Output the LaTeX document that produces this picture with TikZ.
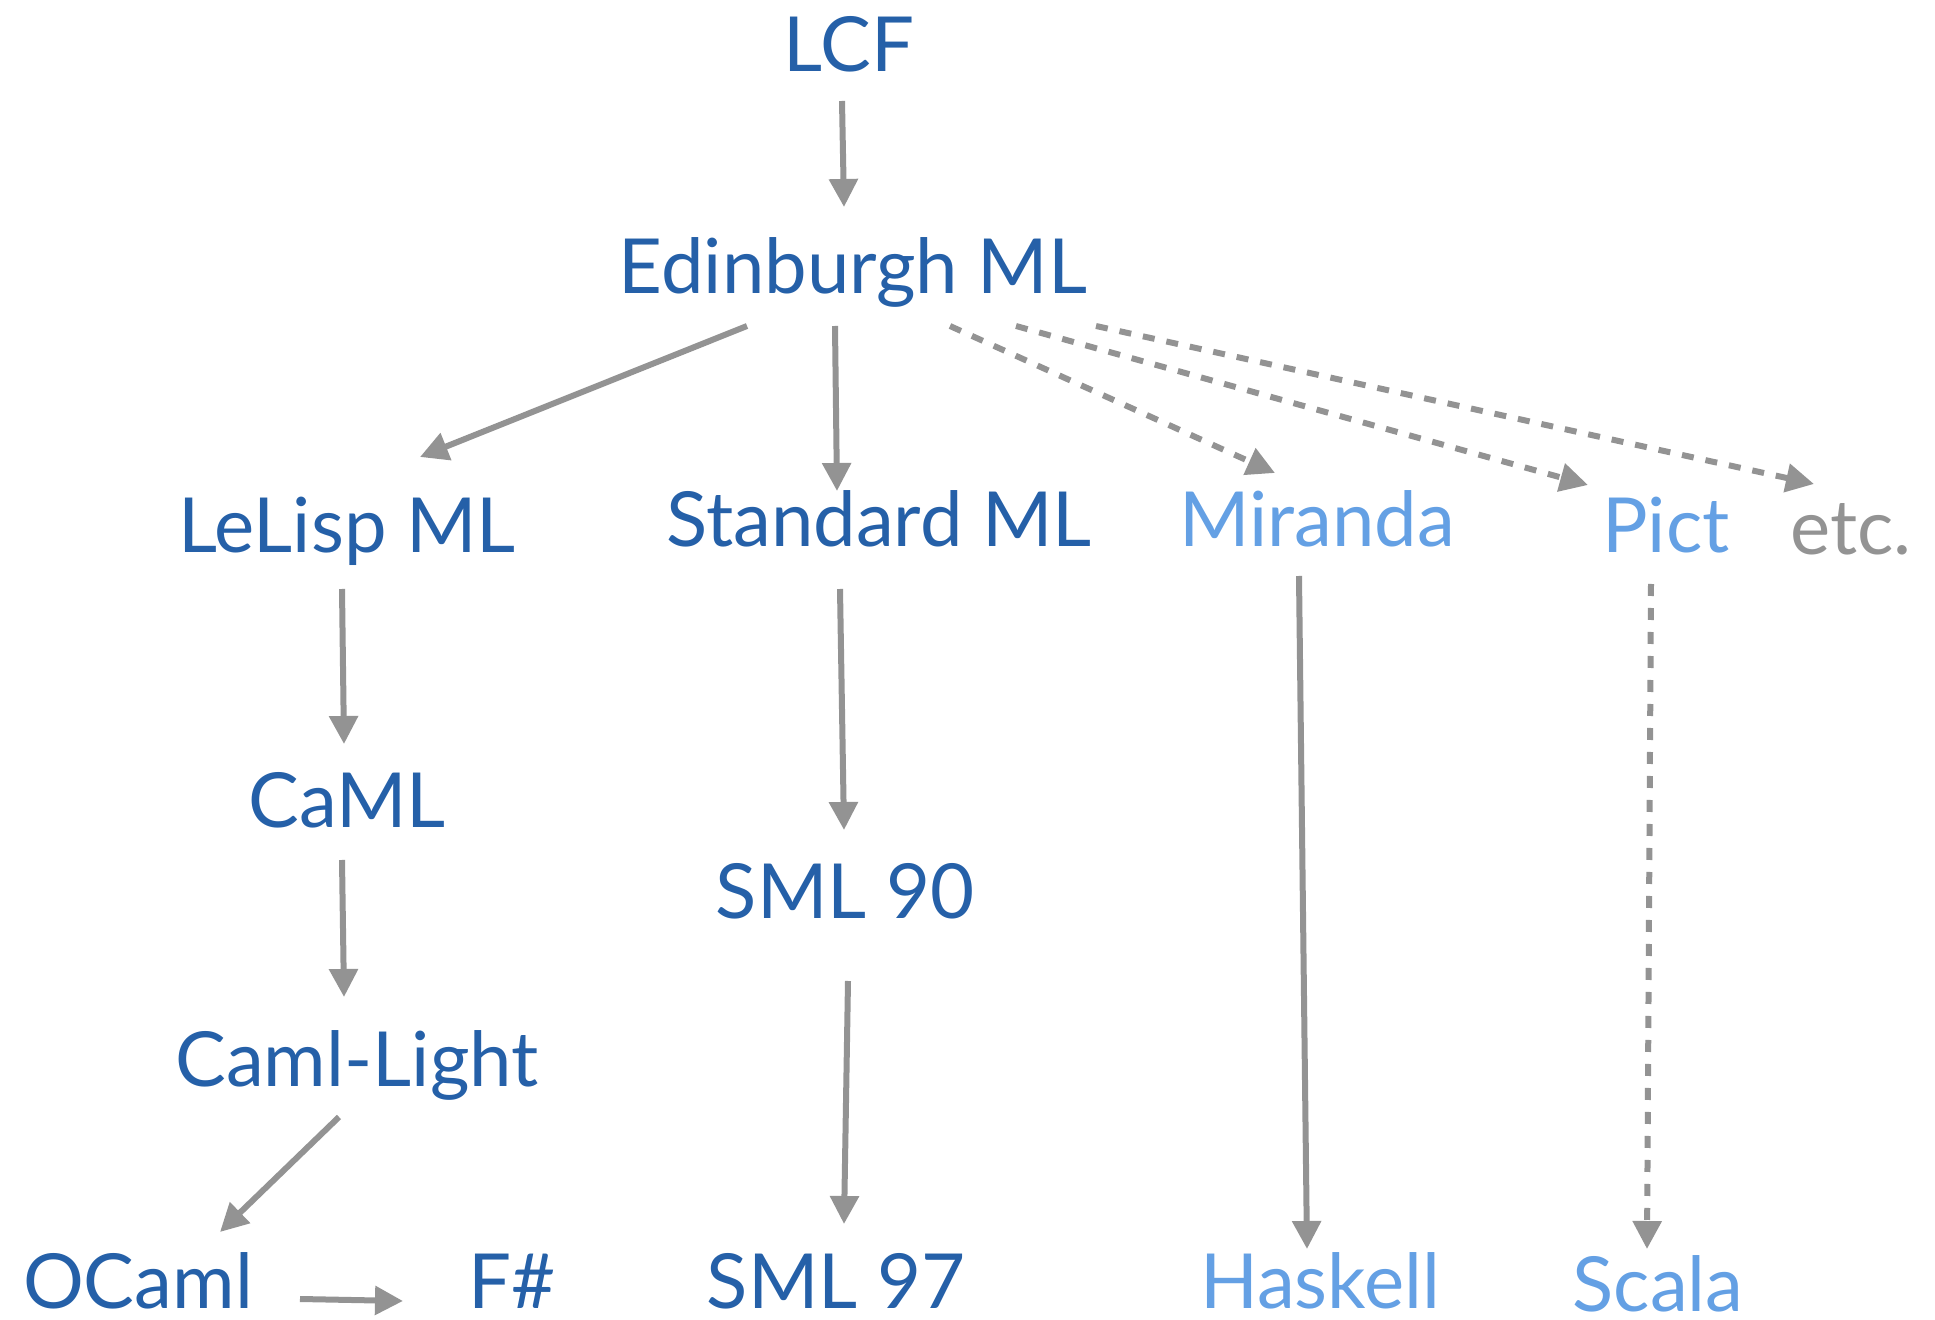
\documentclass[tikz,border=0pt]{standalone}
\usepackage{fontspec}
\setmainfont{Lato}
\usetikzlibrary{arrows.meta, positioning, calc}
\definecolor{mlblue}{RGB}{37,96,168}
\definecolor{mllight}{RGB}{100,160,228}
\definecolor{arrgray}{RGB}{147,147,147}

\begin{document}
\begin{tikzpicture}[x=0.5pt, y=-0.5pt,
    lang/.style={anchor=base, inner sep=0pt, font=\fontsize{38}{40}\selectfont, text=mlblue},
    kin/.style={lang, text=mllight},
    arr/.style={draw=arrgray, line width=3pt, -{Triangle[length=14pt,width=14pt]}},
    darr/.style={arr, dash pattern=on 6pt off 6pt}]
\useasboundingbox (0,0) rectangle (1935,1320);
% Languages
\node[lang] (lcf) at (849,72) {LCF};
\node[lang] (edin) at (853,294) {Edinburgh ML};
\node[lang] (lelisp) at (347,553) {LeLisp ML};
\node[lang] (std) at (879,547) {Standard ML};
\node[kin] (miranda) at (1317,547) {Miranda};
\node[kin] (pict) at (1666,553) {Pict};
\node[lang, text=arrgray] (etc) at (1851,555) {etc.};
\node[lang] (caml) at (347,828) {CaML};
\node[lang] (sml90) at (845,919) {SML 90};
\node[lang] (camllight) at (357,1086) {Caml-Light};
\node[lang] (ocaml) at (138,1308) {OCaml};
\node[lang] (fsharp) at (512,1308) {F\#};
\node[lang] (sml97) at (836,1308) {SML 97};
\node[kin] (haskell) at (1320,1308) {Haskell};
\node[kin] (scala) at (1658,1311) {Scala};
% Descent
\draw[arr] ($(lcf.base)+(-7,29)$) -- ($(edin.base)+(-9,-87)$);
\draw[arr] ($(edin.base)+(-106,32)$) -- ($(lelisp.base)+(73,-96)$);
\draw[arr] ($(edin.base)+(-18,32)$) -- ($(std.base)+(-42,-56)$);
\draw[darr] ($(edin.base)+(97,32)$) -- ($(miranda.base)+(-42,-74)$);
\draw[darr] ($(edin.base)+(163,32)$) -- ($(pict.base)+(-78,-68)$);
\draw[darr] ($(edin.base)+(243,32)$) -- ($(etc.base)+(-37,-71)$);
\draw[arr] ($(lelisp.base)+(-5,36)$) -- ($(caml.base)+(-3,-84)$);
\draw[arr] ($(caml.base)+(-5,32)$) -- ($(camllight.base)+(-13,-89)$);
\draw[arr] ($(camllight.base)+(-18,31)$) -- ($(ocaml.base)+(82,-76)$);
\draw[arr] ($(ocaml.base)+(162,-9)$) -- ($(fsharp.base)+(-109,-7)$);
\draw[arr] ($(std.base)+(-39,42)$) -- ($(sml90.base)+(-1,-89)$);
\draw[arr] ($(sml90.base)+(3,62)$) -- ($(sml97.base)+(8,-84)$);
\draw[arr] ($(miranda.base)+(-18,29)$) -- ($(haskell.base)+(-13,-59)$);
\draw[darr] ($(pict.base)+(-15,31)$) -- ($(scala.base)+(-11,-62)$);
\end{tikzpicture}
\end{document}
